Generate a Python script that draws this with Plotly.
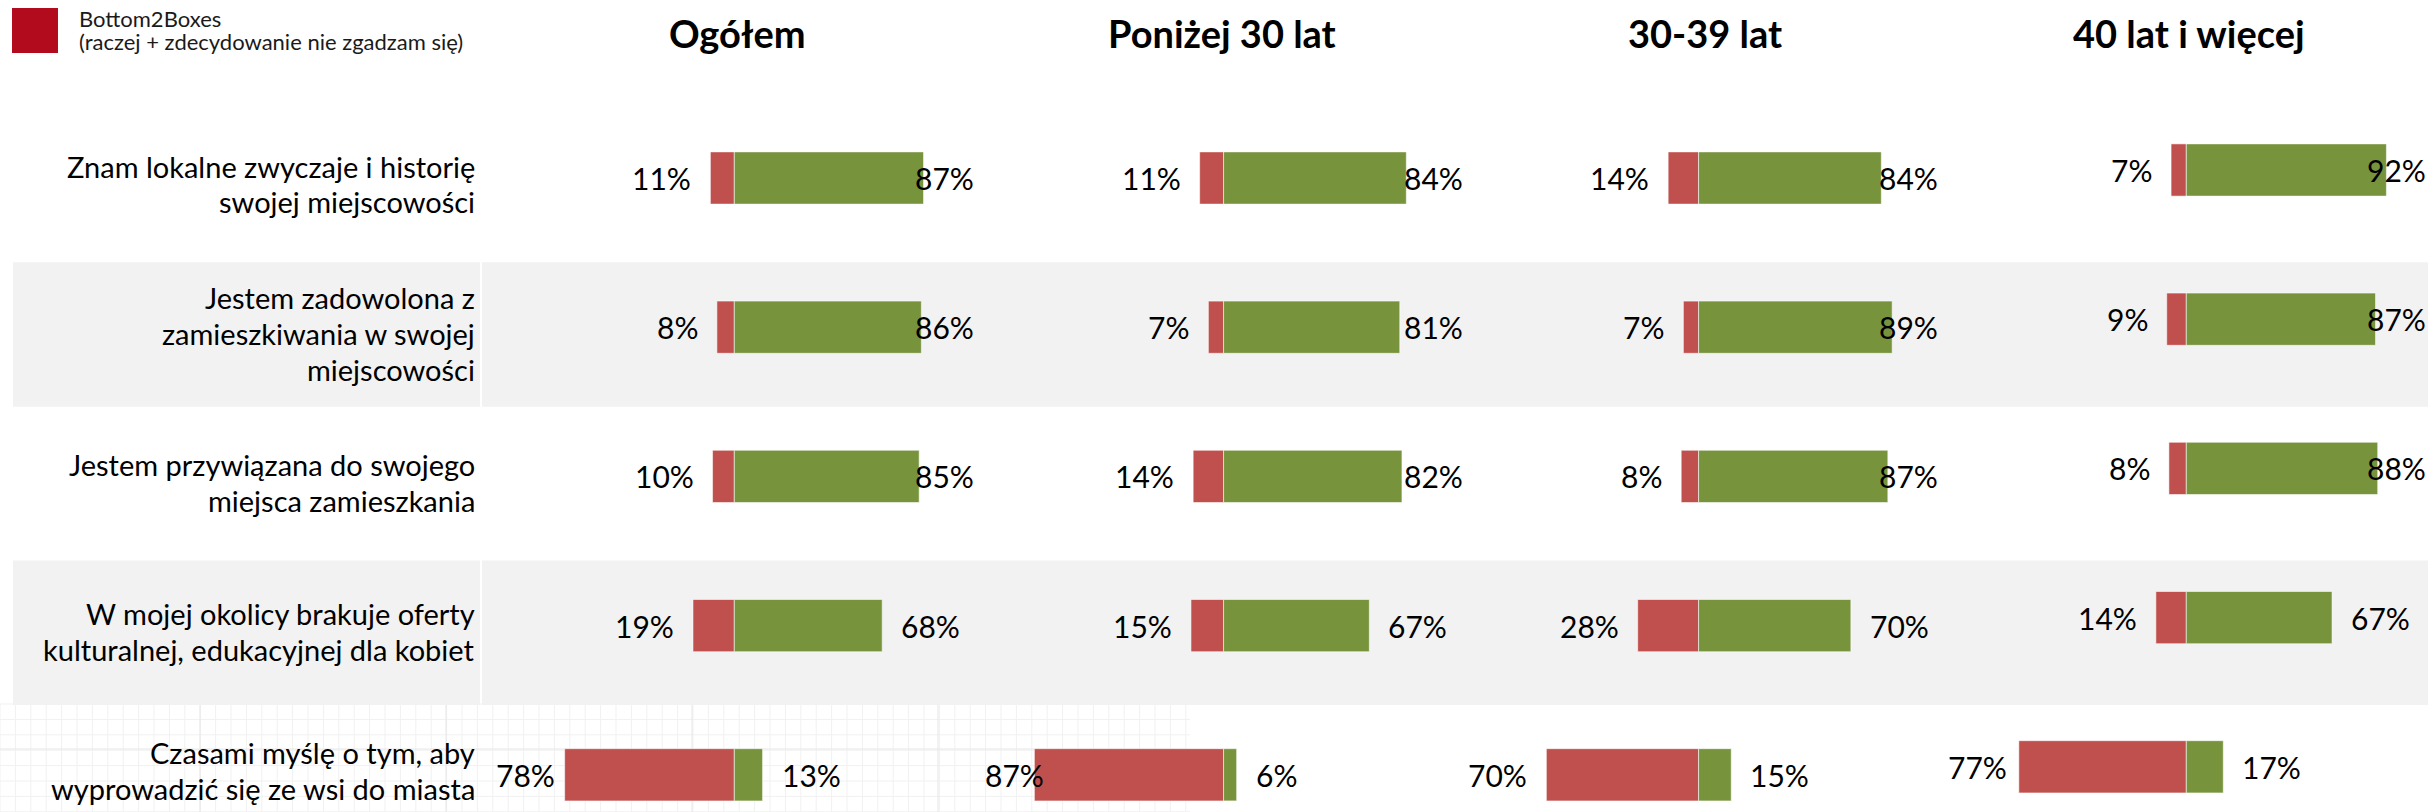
import numpy as np
import plotly.graph_objects as go

# ---------------- data ----------------
groups = ["Ogółem", "Poniżej 30 lat", "30-39 lat", "40 lat i więcej"]
statements = [
    "Znam lokalne zwyczaje i historię<br>swojej miejscowości",
    "Jestem zadowolona z<br>zamieszkiwania w swojej<br>miejscowości",
    "Jestem przywiązana do swojego<br>miejsca zamieszkania",
    "W mojej okolicy brakuje oferty<br>kulturalnej, edukacyjnej dla kobiet",
    "Czasami myślę o tym, aby<br>wyprowadzić się ze wsi do miasta",
]
bottom_ogolem = [11, 8, 10, 19, 78]
top_ogolem = [87, 86, 85, 68, 13]
bottom_ponizej30 = [11, 7, 14, 15, 87]
top_ponizej30 = [84, 81, 82, 67, 6]
bottom_30_39 = [14, 7, 8, 28, 70]
top_30_39 = [84, 89, 87, 70, 15]
bottom_40plus = [7, 9, 8, 14, 77]
top_40plus = [92, 87, 88, 67, 17]
legend_lines = ["Bottom2Boxes", "(raczej + zdecydowanie nie zgadzam się)"]

bottoms = [bottom_ogolem, bottom_ponizej30, bottom_30_39, bottom_40plus]
tops = [top_ogolem, top_ponizej30, top_30_39, top_40plus]

# ---------------- layout constants ----------------
W, H = 2428, 812
RED = "#C0504D"
GREEN = "#77933C"
BAND = "#F2F2F2"
FONT = "Lato"
centers_px = [734.3, 1223.6, 1698.6, 2186.3]
title_px = [737.5, 1222.0, 1705.0, 2189.0]
px_per_pct = 2.175
row_px = 149.2
row1_px = 178.0
y_top = -row1_px / row_px
y_bot = (H - row1_px) / row_px
panel_shift_px = [0, 0, 0, 8]

fig = go.Figure()
rows = list(range(len(statements)))

for k in range(4):
    xa = "x" if k == 0 else f"x{k+1}"
    ya = "y" if panel_shift_px[k] == 0 else "y2"
    fig.add_trace(go.Bar(
        y=rows, x=[-v for v in bottoms[k]], orientation="h",
        xaxis=xa, yaxis=ya, width=0.35,
        marker=dict(color=RED, line=dict(color="rgba(255,255,255,0.55)", width=1)),
        hoverinfo="skip", showlegend=False))
    fig.add_trace(go.Bar(
        y=rows, x=tops[k], orientation="h",
        xaxis=xa, yaxis=ya, width=0.35,
        marker=dict(color=GREEN, line=dict(color="rgba(255,255,255,0.55)", width=1)),
        hoverinfo="skip", showlegend=False))

layout = dict(
    width=W, height=H, autosize=False,
    margin=dict(l=0, r=0, t=0, b=0),
    paper_bgcolor="white", plot_bgcolor="rgba(0,0,0,0)",
    barmode="relative", showlegend=False,
    font=dict(family=FONT, color="black"),
)
for k in range(4):
    c = centers_px[k]
    dom = [(c - 100 * px_per_pct) / W, (c + 100 * px_per_pct) / W]
    key = "xaxis" if k == 0 else f"xaxis{k+1}"
    layout[key] = dict(domain=dom, range=[-100, 100], visible=False,
                       fixedrange=True, anchor="y")
layout["yaxis"] = dict(domain=[0, 1], range=[y_bot, y_top], visible=False, fixedrange=True)
d4 = panel_shift_px[3] / row_px
layout["yaxis2"] = dict(domain=[0, 1], range=[y_bot + d4, y_top + d4], visible=False,
                        fixedrange=True, anchor="x4", overlaying="y")
fig.update_layout(**layout)

shapes = []
# faint background grid texture (bottom-left)
for gx in np.arange(0, 1190, 15.4):
    shapes.append(dict(type="line", xref="paper", yref="paper", x0=gx / W, x1=gx / W,
                       y0=0, y1=1 - 704 / H, line=dict(color="#F1F1F1", width=1), layer="below"))
for gy in np.arange(704, 812, 15.4):
    shapes.append(dict(type="line", xref="paper", yref="paper", x0=0, x1=1190 / W,
                       y0=1 - gy / H, y1=1 - gy / H, line=dict(color="#F1F1F1", width=1), layer="below"))
for gx in [200, 446, 692, 938]:
    shapes.append(dict(type="line", xref="paper", yref="paper", x0=gx / W, x1=gx / W,
                       y0=0, y1=1 - 704 / H, line=dict(color="#E6E6E6", width=1), layer="below"))
shapes.append(dict(type="line", xref="paper", yref="paper", x0=0, x1=1190 / W,
                   y0=1 - 749 / H, y1=1 - 749 / H, line=dict(color="#E6E6E6", width=1), layer="below"))

# gray bands for alternating rows
for i in rows:
    if i % 2 == 1:
        shapes.append(dict(type="rect", xref="paper", yref="y", x0=13 / W, x1=480 / W,
                           y0=i - 0.436, y1=i + 0.533, fillcolor=BAND, line=dict(width=0), layer="below"))
        shapes.append(dict(type="rect", xref="paper", yref="y", x0=482 / W, x1=1,
                           y0=i - 0.436, y1=i + 0.533, fillcolor=BAND, line=dict(width=0), layer="below"))
# legend square
shapes.append(dict(type="rect", xref="paper", yref="paper", x0=12 / W, x1=58 / W,
                   y0=1 - 53 / H, y1=1 - 8 / H, fillcolor="#B20B1E", line=dict(width=0)))

annotations = []
for j, ln in enumerate(legend_lines):
    annotations.append(dict(xref="paper", yref="paper", x=77 / W, y=1 - (18 + 24 * j) / H,
                            xanchor="left", yanchor="middle", align="left", showarrow=False,
                            text=ln, font=dict(size=22, color="#1a1a1a", family=FONT)))
# titles
for k, g in enumerate(groups):
    annotations.append(dict(xref="paper", yref="paper", x=title_px[k] / W, y=1 - 33 / H,
                            xanchor="center", yanchor="middle", showarrow=False,
                            text=f"<b>{g}</b>", font=dict(size=38, color="black", family=FONT)))
# statement labels (each line placed separately for line spacing)
line_gap = 36
label_offset = 6
max_last_line_px = H - 24
for i, s in enumerate(statements):
    lines = s.split("<br>")
    n = len(lines)
    center_px = row1_px + i * row_px + label_offset
    last_px = center_px + (n - 1) / 2 * line_gap
    if last_px > max_last_line_px:
        center_px -= last_px - max_last_line_px
    for j, ln in enumerate(lines):
        line_px = center_px + (j - (n - 1) / 2) * line_gap
        annotations.append(dict(xref="paper", yref="paper", x=477 / W, y=1 - line_px / H,
                                xanchor="right", yanchor="middle", showarrow=False,
                                text=ln, font=dict(size=29, color="black", family=FONT)))
# percent labels
for k in range(4):
    xa = "x" if k == 0 else f"x{k+1}"
    ya = "y" if panel_shift_px[k] == 0 else "y2"
    for i in rows:
        b = bottoms[k][i]
        t = tops[k][i]
        annotations.append(dict(xref=xa, yref=ya, x=-min(b + 7.8, 81.5), y=i,
                                xanchor="right", yanchor="middle", showarrow=False,
                                text=f"{b}%", font=dict(size=30, color="black", family=FONT)))
        annotations.append(dict(xref=xa, yref=ya, x=min(t + 7.8, 82), y=i,
                                xanchor="left", yanchor="middle", showarrow=False,
                                text=f"{t}%", font=dict(size=30, color="black", family=FONT)))

fig.update_layout(shapes=shapes, annotations=annotations)
fig.write_html("out.html", config={"displayModeBar": False},
               post_script="document.body.style.margin='0';document.body.style.overflow='hidden';")
